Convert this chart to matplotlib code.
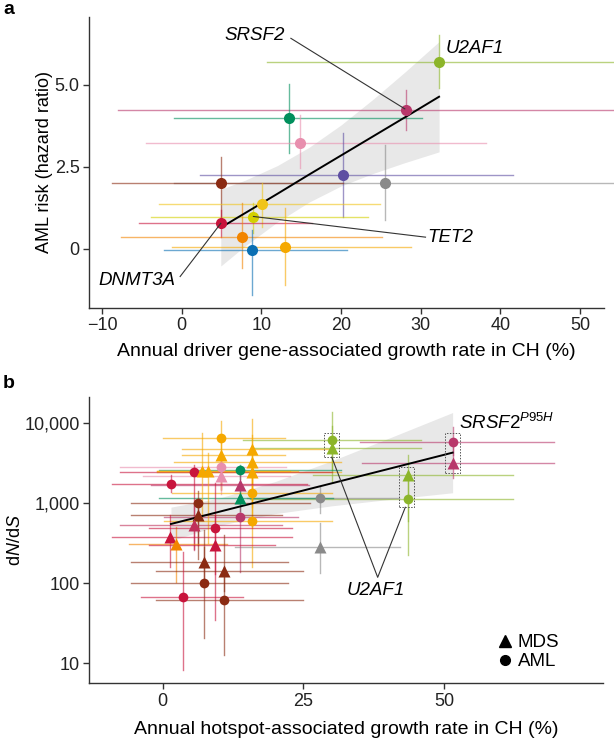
import matplotlib
matplotlib.use("Agg")
import matplotlib.pyplot as plt
from matplotlib.lines import Line2D
from matplotlib.patches import Rectangle

plt.rcParams['font.family'] = ['Liberation Sans', 'DejaVu Sans']
plt.rcParams['mathtext.fontset'] = 'custom'
plt.rcParams['mathtext.rm'] = 'Liberation Sans'
plt.rcParams['mathtext.it'] = 'Liberation Sans:italic'

# ---------------- Panel a data ----------------
a_x    = [32.3, 28.2, 13.5, 14.9, 20.3, 25.5, 4.9, 10.1, 8.9, 4.9, 7.6, 8.8, 12.9]
a_xlo  = [10.7, -8.0, -1.0, -4.5, 2.3, -1.0, -8.7, -2.8, -3.9, -5.4, -7.6, -2.2, -1.2]
a_xhi  = [60.0, 60.0, 30.1, 38.2, 41.6, 60.0, 20.2, 24.9, 23.4, 16.3, 25.1, 20.7, 28.8]
a_y    = [5.71, 4.24, 3.98, 3.22, 2.26, 2.02, 2.00, 1.37, 0.97, 0.78, 0.38, -0.03, 0.07]
a_ylo  = [4.90, 3.63, 2.94, 2.46, 0.98, 0.88, 0.90, 0.68, 0.48, 0.38, -0.59, -1.40, -1.10]
a_yhi  = [6.52, 4.85, 5.02, 4.08, 3.53, 3.17, 2.81, 2.00, 1.39, 1.19, 1.39, 0.58, 1.24]
a_col  = ['#8cb52a', '#b8386b', '#008f5c', '#e88fae', '#5e4fa2', '#8a8a8a', '#8b2b13',
          '#f0c419', '#d4d000', '#c8143c', '#f28500', '#0a6fb3', '#f5a800']
a_fit_x  = [4.9, 8, 12, 16, 20, 24, 28, 32.3]
a_fit_y  = [0.65, 1.10, 1.68, 2.27, 2.85, 3.43, 4.01, 4.64]
a_band_hi = [1.82, 2.10, 2.54, 3.10, 3.78, 4.56, 5.39, 6.32]
a_band_lo = [-0.52, 0.10, 0.82, 1.43, 1.92, 2.30, 2.63, 2.96]

# ---------------- Panel b data ----------------
b_x   = [30.1, 30.1, 43.5, 43.5, 51.5, 51.5, 28.0, 28.0, 10.4, 10.4, 15.9, 15.9, 15.9,
         10.4, 10.4, 13.8, 13.8, 13.8, 13.8, 15.9, 15.9, 1.45, 5.65, 7.07, 8.14, 6.36,
         6.36, 5.65, 1.33, 2.4, 9.33, 9.33, 7.43, 11.0, 7.43, 3.58, 11.0]
b_xlo = [14.3, 16.2, 26.8, 15.6, 35.1, 35.5, 15.0, 12.9, 0.0, 3.5, 3.5, 2.1, -0.9,
         -7.6, -3.5, -0.7, -2.0, -0.7, 0.3, 1.7, 0.3, -9.0, -7.6, -1.0, -1.0, -5.6,
         -5.6, -7.6, -9.0, -5.9, -2.4, -2.4, -5.6, -1.2, -5.6, -3.8, -1.2]
b_xhi = [45.9, 45.9, 62.2, 62.2, 69.5, 69.5, 42.0, 42.1, 21.8, 21.8, 30.0, 31.6, 31.6,
         21.9, 22.6, 31.6, 26.0, 30.2, 24.0, 30.1, 30.1, 25.7, 30.0, 22.6, 24.0, 26.1,
         21.2, 21.2, 22.9, 11.5, 22.9, 20.0, 22.3, 25.0, 22.3, 14.3, 25.0]
b_y   = [6080, 4790, 2230, 1110, 5800, 3120, 1140, 284, 6380, 3950, 4660, 3270, 2450,
         2780, 2160, 2570, 1680, 1140, 673, 1340, 594, 1720, 2400, 2520, 2520, 990,
         707, 530, 372, 307, 482, 299, 185, 143, 101, 66.5, 61.5]
b_ylo = [2600, 1900, 600, 224, 3900, 2040, 742, 132, 1450, 1500, 1500, 1100, 900,
         1500, 1300, 2000, 1000, 800, 139, 500, 159, 1350, 270, 615, 316, 300,
         200, 258, 159, 104, 34.7, 130, 90, 80, 20.5, 8.2, 12.7]
b_yhi = [13700, 9000, 3950, 2500, 8900, 5000, 1590, 557, 10600, 7000, 11000, 7000, 5000,
         4000, 3500, 3000, 2600, 1500, 900, 3000, 1300, 2200, 3000, 7400, 4200, 1400,
         1000, 1000, 706, 500, 1780, 700, 282, 400, 457, 247, 159]
b_col = ['#8cb52a', '#8cb52a', '#8cb52a', '#8cb52a', '#b8386b', '#b8386b', '#8a8a8a', '#8a8a8a',
         '#f5a800', '#f5a800', '#f5a800', '#f5a800', '#f5a800', '#e88fae', '#e88fae',
         '#008f5c', '#b8386b', '#008f5c', '#b8386b', '#f5a800', '#f5a800', '#c8143c',
         '#c8143c', '#f5a800', '#f5a800', '#8b2b13', '#8b2b13', '#c0305a', '#c8143c',
         '#f28500', '#c8143c', '#c8143c', '#8b2b13', '#8b2b13', '#8b2b13', '#c8143c', '#8b2b13']
b_shape = ['o', '^', '^', 'o', 'o', '^', 'o', '^', 'o', '^', '^', '^', '^', 'o', '^',
           'o', '^', '^', 'o', 'o', 'o', 'o', 'o', '^', '^', 'o', '^', '^', '^', '^',
           'o', '^', '^', '^', 'o', 'o', 'o']
b_fit_x = [1.5, 10, 20, 30, 40, 51.5]
b_fit_y = [546, 773, 1164, 1750, 2636, 4230]
b_band_hi = [885, 1143, 1845, 3334, 6324, 13366]
b_band_lo = [337, 522, 735, 918, 1099, 1337]
# dotted highlight boxes: (x0, x1, y0, y1)
b_boxes = [(28.7, 31.4, 3710, 7380), (42.0, 44.7, 881, 2826), (50.2, 52.8, 2340, 7380)]

W, H = 614, 741
fig = plt.figure(figsize=(W / 100, H / 100), dpi=100)

def px_axes(l, t, r, b):
    return fig.add_axes([l / W, 1 - b / H, (r - l) / W, (b - t) / H])

def style(ax):
    for s in ['top', 'right']:
        ax.spines[s].set_visible(False)
    for s in ['left', 'bottom']:
        ax.spines[s].set_color('#333333')
        ax.spines[s].set_linewidth(1.0)
    ax.tick_params(direction='out', length=4, width=1, color='#333333',
                   labelsize=13, labelcolor='#222222', pad=3)

# ---------------- Panel a ----------------
axa = px_axes(89.3, 17, 604, 307.7)
style(axa)
axa.set_xlim(-11.6, 53.0)
axa.set_ylim(-1.79, 7.07)
axa.fill_between(a_fit_x, a_band_lo, a_band_hi, color='#d9d9d9', alpha=0.6, lw=0, zorder=1)
for i in range(len(a_x)):
    axa.plot([a_xlo[i], a_xhi[i]], [a_y[i], a_y[i]], color=a_col[i], lw=1.0, alpha=0.6,
             zorder=2, clip_on=False)
    axa.plot([a_x[i], a_x[i]], [a_ylo[i], a_yhi[i]], color=a_col[i], lw=1.0, alpha=0.6, zorder=2)
axa.plot(a_fit_x, a_fit_y, color='black', lw=1.4, zorder=3)
for i in range(len(a_x)):
    axa.plot(a_x[i], a_y[i], 'o', color=a_col[i], ms=8, mec='none', zorder=4)
axa.set_xticks([-10, 0, 10, 20, 30, 40, 50])
axa.set_xticklabels(['\u221210', '0', '10', '20', '30', '40', '50'])
axa.set_yticks([0, 2.5, 5.0])
axa.set_yticklabels(['0', '2.5', '5.0'])
axa.set_xlabel('Annual driver gene-associated growth rate in CH (%)', fontsize=14, labelpad=6)
axa.set_ylabel('AML risk (hazard ratio)', fontsize=13, labelpad=1)
ann = dict(color='#333333', lw=0.8, zorder=5)
axa.plot([13.7, 28.0], [6.42, 4.27], **ann)
axa.text(12.9, 6.52, 'SRSF2', style='italic', fontsize=13.5, ha='right', va='center')
axa.text(33.1, 6.12, 'U2AF1', style='italic', fontsize=13.5, ha='left', va='center')
axa.plot([30.6, 9.0], [0.36, 0.99], **ann)
axa.text(30.8, 0.36, 'TET2', style='italic', fontsize=13.5, ha='left', va='center')
axa.plot([-0.2, 4.9], [-0.84, 0.78], **ann)
axa.text(-0.8, -0.95, 'DNMT3A', style='italic', fontsize=13.5, ha='right', va='center')

# ---------------- Panel b ----------------
axb = px_axes(89.3, 397.3, 603, 683.3)
style(axb)
axb.set_yscale('log')
axb.set_xlim(-13.0, 78.2)
axb.set_ylim(5.64, 20700)
axb.fill_between(b_fit_x, b_band_lo, b_band_hi, color='#d9d9d9', alpha=0.6, lw=0, zorder=1)
for i in range(len(b_x)):
    axb.plot([b_xlo[i], b_xhi[i]], [b_y[i], b_y[i]], color=b_col[i], lw=1.0, alpha=0.6, zorder=2)
    axb.plot([b_x[i], b_x[i]], [b_ylo[i], b_yhi[i]], color=b_col[i], lw=1.0, alpha=0.6, zorder=2)
axb.plot(b_fit_x, b_fit_y, color='black', lw=1.4, zorder=3)
for i in range(len(b_x)):
    axb.plot(b_x[i], b_y[i], b_shape[i], color=b_col[i],
             ms=7 if b_shape[i] == 'o' else 8, mec='none', zorder=4)
for (x0, x1, y0, y1) in b_boxes:
    axb.add_patch(Rectangle((x0, y0), x1 - x0, y1 - y0, fill=False, ls=(0, (1.5, 1.5)),
                            lw=0.7, ec='#555555', zorder=5))
axb.set_xticks([0, 25, 50])
axb.set_yticks([10, 100, 1000, 10000])
axb.set_yticklabels(['10', '100', '1,000', '10,000'])
axb.minorticks_off()
axb.set_xlabel('Annual hotspot-associated growth rate in CH (%)', fontsize=14, labelpad=8)
axb.set_ylabel(r'd$\mathit{N}$/d$\mathit{S}$', fontsize=13, labelpad=0)
axb.plot([30.05, 38.2, 43.1], [3710, 118, 881], color='#333333', lw=0.8, zorder=5)
axb.text(37.9, 82, 'U2AF1', style='italic', fontsize=13.5, ha='center', va='center')
axb.text(52.6, 9800, r'$\mathit{SRSF2}^{\mathit{P95H}}$', fontsize=13.5, ha='left', va='center')
handles = [Line2D([], [], marker='^', color='black', ls='none', ms=9),
           Line2D([], [], marker='o', color='black', ls='none', ms=7)]
axb.legend(handles, ['MDS', 'AML'], loc='lower right', bbox_to_anchor=(0.93, 0.02),
           frameon=False, fontsize=13.5, handlelength=0.8, handletextpad=0.3,
           labelspacing=0.1, borderaxespad=0)

fig.text(3 / W, 1 - 9 / H, 'a', fontsize=14, fontweight='bold', ha='left', va='center')
fig.text(3 / W, 1 - 384 / H, 'b', fontsize=14, fontweight='bold', ha='left', va='center')

fig.savefig('out.png', dpi=100)
